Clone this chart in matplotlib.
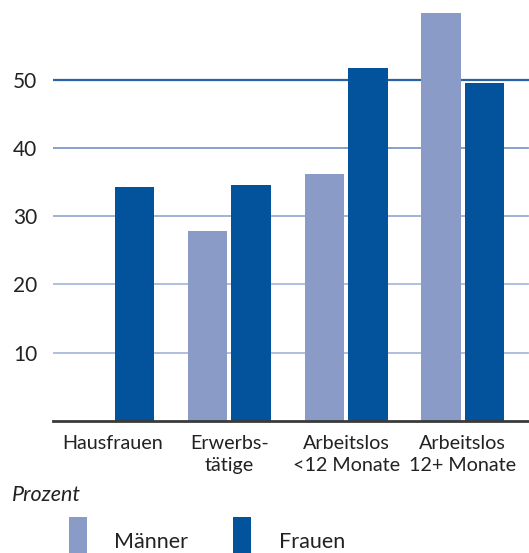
import matplotlib
matplotlib.use("Agg")
import matplotlib.pyplot as plt
import numpy as np
from matplotlib.patches import Rectangle

categories = ["Hausfrauen", "Erwerbs-\ntätige", "Arbeitslos\n<12 Monate", "Arbeitslos\n12+ Monate"]
maenner = [np.nan, 27.8, 36.2, 59.7]
frauen = [34.3, 34.6, 51.7, 49.5]
yticks = [10, 20, 30, 40, 50]
series_names = ["Männer", "Frauen"]

c_light = "#8a9bc8"
c_dark = "#03529c"
grid_colors = {10: "#a9b9de", 20: "#a9b9de", 30: "#98acd6", 40: "#7f99ca", 50: "#2a62a6"}

plt.rcParams["font.family"] = ["Lato", "DejaVu Sans"]

W, H = 529, 553
fig = plt.figure(figsize=(W / 100, H / 100), dpi=100)
ax = fig.add_axes([53.3 / W, 1 - 421 / H, (W - 53.3) / W, (421 - 0) / H])

x = np.arange(len(categories))
bw = 0.338
off = 0.186
ax.set_xlim(-0.509, 3.567)
ax.set_ylim(0, 421 / 6.83)

for v in yticks:
    ax.axhline(v, color=grid_colors[v], lw=1.6 if v == 50 else 1.3, zorder=1, xmax=0.997)

ax.bar(x - off, maenner, bw, color=c_light, zorder=2)
ax.bar(x + off, frauen, bw, color=c_dark, zorder=2)

for s in ["top", "right", "left"]:
    ax.spines[s].set_visible(False)
ax.spines["bottom"].set_color("#3a3a3a")
ax.spines["bottom"].set_linewidth(2)
ax.spines["bottom"].set_zorder(3)

ax.set_yticks(yticks)
ax.set_yticklabels([str(v) for v in yticks], fontsize=15, color="#222222")
ax.tick_params(axis="y", length=0, pad=11.5)
ax.set_xticks(x)
ax.set_xticklabels(categories, fontsize=14.2, color="#222222", linespacing=1.35)
ax.tick_params(axis="x", length=0, pad=10)

fig.text(12 / W, 1 - 495 / H, "Prozent", fontsize=15.5, style="italic", color="#222222", va="center")

for px, col, name, tx in [(69, c_light, series_names[0], 114), (233, c_dark, series_names[1], 279)]:
    fig.add_artist(Rectangle((px / W, 0), 18 / W, (H - 516.7) / H, transform=fig.transFigure,
                             facecolor=col, edgecolor="none"))
    fig.text(tx / W, 1 - 542 / H, name, fontsize=15.5, color="#222222", va="center")

fig.savefig("out.png", dpi=100)
